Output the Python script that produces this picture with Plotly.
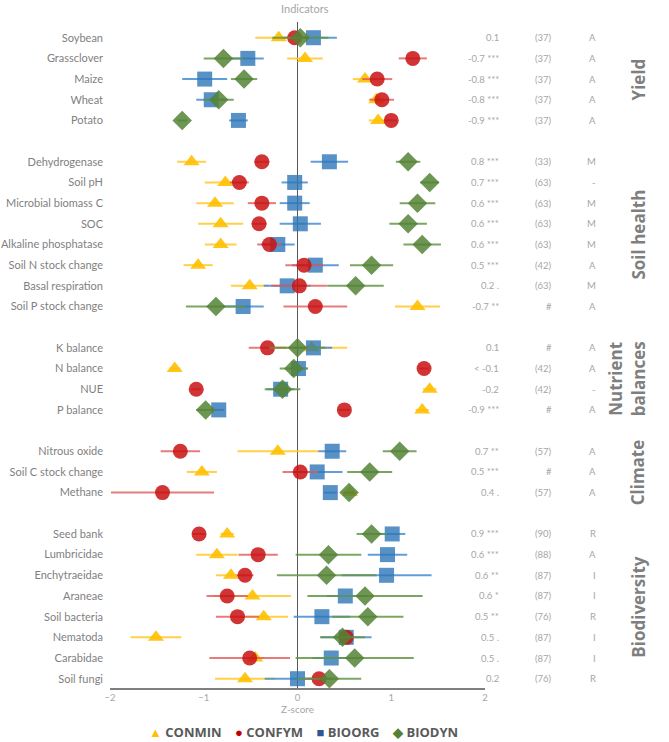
import plotly.graph_objects as go

indicators = ["Soybean", "Grassclover", "Maize", "Wheat", "Potato",
              "Dehydrogenase", "Soil pH", "Microbial biomass C", "SOC", "Alkaline phosphatase",
              "Soil N stock change", "Basal respiration", "Soil P stock change",
              "K balance", "N balance", "NUE", "P balance",
              "Nitrous oxide", "Soil C stock change", "Methane",
              "Seed bank", "Lumbricidae", "Enchytraeidae", "Araneae", "Soil bacteria",
              "Nematoda", "Carabidae", "Soil fungi"]
group_names = ["Yield", "Soil health", "Nutrient<br>balances", "Climate", "Biodiversity"]
group_sizes = [5, 8, 4, 3, 8]

conmin = [-0.20, 0.08, 0.72, 0.84, 0.86, -1.13, -0.77, -0.88, -0.82, -0.82, -1.06, -0.51, 1.28,
          0.15, -1.31, 1.41, 1.33, -0.21, -1.02, 0.56, -0.75, -0.86, -0.71, -0.48, -0.36, -1.51, -0.45, -0.56]
conmin_err = [0.25, 0.19, 0.13, 0.08, 0.10, 0.155, 0.22, 0.20, 0.24, 0.17, 0.155, 0.20, 0.24,
              0.38, 0.06, 0.07, 0.07, 0.43, 0.16, 0.06, 0.07, 0.22, 0.16, 0.41, 0.26, 0.27, 0.10, 0.32]
confym = [-0.03, 1.23, 0.85, 0.90, 1.00, -0.38, -0.62, -0.38, -0.41, -0.30, 0.07, 0.02, 0.19,
          -0.32, 1.35, -1.08, 0.50, -1.25, 0.03, -1.44, -1.05, -0.42, -0.56, -0.75, -0.64, 0.52, -0.51, 0.23]
confym_err = [0.12, 0.15, 0.16, 0.13, 0.06, 0.08, 0.10, 0.15, 0.08, 0.13, 0.20, 0.30, 0.34,
              0.20, 0.05, 0.05, 0.06, 0.21, 0.19, 0.55, 0.07, 0.21, 0.09, 0.22, 0.23, 0.08, 0.43, 0.15]
bioorg = [0.17, -0.53, -0.99, -0.92, -0.63, 0.34, -0.03, -0.03, 0.03, -0.21, 0.19, -0.11, -0.58,
          0.17, 0.01, -0.18, -0.84, 0.37, 0.21, 0.35, 1.01, 0.96, 0.95, 0.51, 0.26, 0.52, 0.36, 0.00]
bioorg_err = [0.25, 0.17, 0.24, 0.16, 0.10, 0.20, 0.14, 0.16, 0.22, 0.18, 0.25, 0.25, 0.22,
              0.20, 0.10, 0.15, 0.06, 0.15, 0.27, 0.07, 0.14, 0.21, 0.48, 0.20, 0.30, 0.27, 0.20, 0.35]
biodyn = [0.03, -0.79, -0.57, -0.84, -1.23, 1.18, 1.41, 1.28, 1.18, 1.33, 0.79, 0.62, -0.87,
          0.00, -0.04, -0.16, -0.98, 1.09, 0.77, 0.55, 0.79, 0.33, 0.31, 0.72, 0.75, 0.48, 0.61, 0.34]
biodyn_err = [0.30, 0.21, 0.14, 0.16, 0.05, 0.13, 0.10, 0.19, 0.20, 0.20, 0.23, 0.30, 0.32,
              0.30, 0.15, 0.19, 0.10, 0.18, 0.24, 0.06, 0.16, 0.35, 0.53, 0.615, 0.38, 0.24, 0.63, 0.34]

ef = ["0.1", "-0.7 ***", "-0.8 ***", "-0.8 ***", "-0.9 ***",
      "0.8 ***", "0.7 ***", "0.6 ***", "0.6 ***", "0.6 ***", "0.5 ***", "0.2 .", "-0.7 **",
      "0.1", "< -0.1", "-0.2", "-0.9 ***",
      "0.7 **", "0.5 ***", "0.4 .",
      "0.9 ***", "0.6 ***", "0.6 **", "0.6 *", "0.5 **", "0.5 .", "0.5 .", "0.2"]
ref = ["(37)", "(37)", "(37)", "(37)", "(37)",
       "(33)", "(63)", "(63)", "(63)", "(63)", "(42)", "(63)", "#",
       "#", "(42)", "(42)", "#",
       "(57)", "#", "(57)",
       "(90)", "(88)", "(87)", "(87)", "(76)", "(87)", "(87)", "(76)"]
scale = ["A", "A", "A", "A", "A",
         "M", "-", "M", "M", "M", "A", "M", "A",
         "A", "A", "-", "A",
         "A", "A", "A",
         "R", "A", "I", "I", "R", "I", "I", "R"]

legend_names = ["CONMIN", "CONFYM", "BIOORG", "BIODYN"]
legend_glyphs = ["▲", "●", "■", "◆"]
legend_colors = ["#FFC000", "#C00000", "#2F5597", "#548235"]

# row positions: one blank row between groups
pos = []
group_centers = []
r = 0
for gi, n in enumerate(group_sizes):
    start = r
    for _ in range(n):
        pos.append(r)
        r += 1
    group_centers.append((start + r - 1) / 2)
    r += 1

series = [
    ("CONMIN", conmin, conmin_err, "triangle-up", "rgba(255,192,0,0.9)", "rgba(255,200,40,0.85)"),
    ("BIOORG", bioorg, bioorg_err, "square", "rgba(46,117,182,0.8)", "rgba(70,140,210,0.85)"),
    ("CONFYM", confym, confym_err, "circle", "rgba(200,16,16,0.85)", "rgba(225,90,90,0.8)"),
    ("BIODYN", biodyn, biodyn_err, "diamond", "rgba(84,130,53,0.85)", "rgba(100,150,70,0.85)"),
]

fig = go.Figure()
for name, vals, errs, sym, col, ecol in series:
    fig.add_trace(go.Scatter(
        x=vals, y=pos, mode="markers", name=name, showlegend=False,
        marker=dict(symbol=sym, size=15 if sym != "triangle-up" else 14, color=col, line=dict(width=0)),
        error_x=dict(type="data", array=errs, visible=True, color=ecol, thickness=2, width=0),
    ))

gray = "#7f7f7f"
light = "#a6a6a6"
ann = []
ann.append(dict(text="Indicators", x=0.52, xref="paper", y=1.02, yref="paper", yanchor="middle",
                showarrow=False, font=dict(size=11, color=light, family="Lato")))
cols_x = [1.043, 1.184, 1.301]
for txt, cx in zip(["EF", "Ref", "Scale"], cols_x):
    ann.append(dict(text=txt, x=cx, xref="paper", y=-1.08, yref="y", showarrow=False,
                    font=dict(size=11, color=gray, family="Lato")))
for i, p in enumerate(pos):
    for txt, cx in zip([ef[i], ref[i], scale[i]], cols_x):
        ann.append(dict(text=txt, x=cx, xref="paper", y=p, yref="y", showarrow=False,
                        font=dict(size=9.5, color=light, family="Lato")))
for gname, gc in zip(group_names, group_centers):
    ann.append(dict(text="<b>" + gname + "</b>", x=1.445, xref="paper", y=gc, yref="y",
                    showarrow=False, textangle=-90, font=dict(size=17, color=gray, family="Open Sans")))
leg = "    ".join(
    f"<span style='color:{c}'>{g}</span> {n}" for n, g, c in zip(legend_names, legend_glyphs, legend_colors)
)
ann.append(dict(text="<b>" + leg + "</b>", x=0.515, xref="paper", y=-0.0655, yref="paper",
                xanchor="center", yanchor="middle", showarrow=False,
                font=dict(size=13, color="#595959", family="Open Sans")))

fig.update_layout(
    width=669, height=742,
    margin=dict(l=110, r=184, t=22, b=54, autoexpand=False),
    paper_bgcolor="white", plot_bgcolor="white",
    showlegend=False,
    annotations=ann,
    font=dict(family="Lato"),
)
fig.update_xaxes(range=[-2, 2], tickvals=[-2, -1, 0, 1, 2], showgrid=False,
                 zeroline=True, zerolinecolor="#595959", zerolinewidth=1,
                 showline=True, linecolor=gray, linewidth=1.5, ticks="",
                 tickfont=dict(size=9.5, color=light), automargin=False,
                 title=dict(text="Z-score", font=dict(size=10, color=light), standoff=4))
fig.update_yaxes(range=[31.45, -0.76], tickvals=pos, ticktext=indicators, showgrid=False,
                 zeroline=False, showline=False, ticks="", ticklabelstandoff=6, automargin=False,
                 tickfont=dict(size=11, color=gray, family="Lato"))

fig.write_html("out.html", config={"displayModeBar": False},
               post_script="document.body.style.margin='0';")
